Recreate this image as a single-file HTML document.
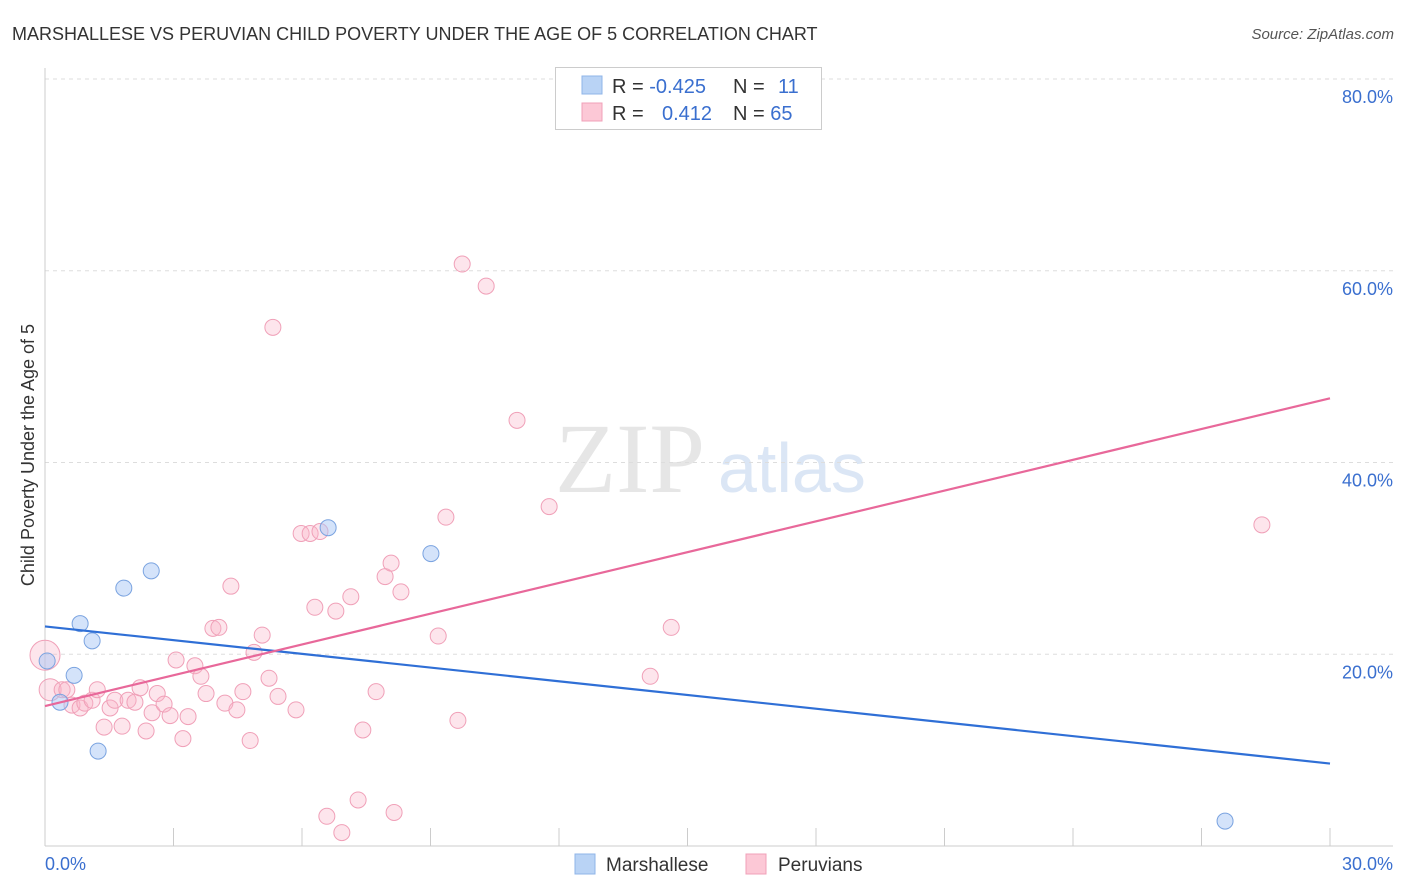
<!DOCTYPE html>
<html><head><meta charset="utf-8"><style>
body{margin:0;background:#fff;font-family:"Liberation Sans",sans-serif;}
svg{display:block}
</style></head><body>
<svg id="c" width="1406" height="892">
<text x="12" y="40" font-size="18" fill="#333">MARSHALLESE VS PERUVIAN CHILD POVERTY UNDER THE AGE OF 5 CORRELATION CHART</text>
<text x="1394" y="39" font-size="15" fill="#555" font-style="italic" text-anchor="end">Source: ZipAtlas.com</text>
<text x="555" y="492" font-size="100" fill="#e6e6e6" font-family="Liberation Serif,serif">ZIP</text>
<text x="718" y="492" font-size="70" fill="#dbe6f5">atlas</text>
<g id="grid"></g>
<g id="marks"></g>
<text transform="translate(34,455) rotate(-90)" font-size="18" fill="#333" text-anchor="middle">Child Poverty Under the Age of 5</text>
<g>
<rect x="555.5" y="67.5" width="266" height="62" fill="#fff" stroke="#ccc"/>
<rect x="582" y="76" width="20" height="18" fill="#b9d3f5" stroke="#8fb4e8"/>
<rect x="582" y="103" width="20" height="18" fill="#fcc8d6" stroke="#f0a0b8"/>
<text x="612" y="93" font-size="20" fill="#333">R = <tspan fill="#3a6fcf">-0.425</tspan><tspan x="733">N = </tspan><tspan x="778" fill="#3a6fcf">11</tspan></text>
<text x="612" y="120" font-size="20" fill="#333">R = <tspan x="662" fill="#3a6fcf">0.412</tspan><tspan x="733">N = </tspan><tspan fill="#3a6fcf">65</tspan></text>
</g>
<g>
<rect x="575" y="854" width="20" height="20" fill="#b9d3f5" stroke="#8fb4e8"/>
<text x="606" y="871" font-size="19" fill="#333">Marshallese</text>
<rect x="746" y="854" width="20" height="20" fill="#fcc8d6" stroke="#f0a0b8"/>
<text x="778" y="871" font-size="19" fill="#333">Peruvians</text>
</g>
</svg>
<script>
const yTicks=[20,40,60,80];
const yTickLabels=["20.0%","40.0%","60.0%","80.0%"];
const xTickLabels=["0.0%","30.0%"];
const pinkX=[0,0.12,0.40,0.51,0.63,0.82,0.93,1.10,1.22,1.38,1.52,1.63,1.80,1.94,2.10,2.22,2.36,2.50,2.62,2.78,2.92,3.06,3.22,3.34,3.50,3.64,3.76,3.92,4.06,4.20,4.34,4.48,4.62,4.79,4.88,5.07,5.23,5.32,5.44,5.86,5.98,6.19,6.30,6.42,6.58,6.79,6.93,7.14,7.31,7.42,7.73,7.94,8.08,8.15,8.31,9.18,9.36,9.64,9.74,10.30,11.02,11.77,14.13,14.62,28.41];
const pinkY=[19.9,16.3,16.3,16.3,14.7,14.4,14.9,15.2,16.3,12.4,14.4,15.2,12.5,15.2,15.0,16.5,12.0,13.9,15.9,14.8,13.6,19.4,11.2,13.5,18.8,17.7,15.9,22.7,22.8,14.9,27.1,14.2,16.1,11.0,20.2,22.0,17.5,54.1,15.6,14.2,32.6,32.6,24.9,32.8,3.1,24.5,1.4,26.0,4.8,12.1,16.1,28.1,29.5,3.5,26.5,21.9,34.3,13.1,60.7,58.4,44.4,35.4,17.7,22.8,33.5];
const blueX=[0.05,0.35,0.68,0.82,1.10,1.24,1.84,2.48,6.61,9.01,27.55];
const blueY=[19.3,15.0,17.8,23.2,21.4,9.9,26.9,28.7,33.2,30.5,2.6];
const blueTrend=[22.9,8.6];
const pinkTrend=[14.6,46.7];
const X0=45,X1=1330,Y0=846,Y80=79;
const sx=v=>X0+(X1-X0)*v/30;
const sy=v=>Y0-(Y0-Y80)*v/80;
const NS="http://www.w3.org/2000/svg";
function mk(t,a,p){const e=document.createElementNS(NS,t);for(const k in a)e.setAttribute(k,a[k]);p.appendChild(e);return e;}
const g=document.getElementById('grid'),m=document.getElementById('marks');
yTicks.forEach((v,i)=>{
 const l=mk('line',{x1:X0,x2:1393,y1:sy(v),y2:sy(v),stroke:'#ddd','stroke-dasharray':'4,4'},g);
 
 
 const t=mk('text',{x:1393,y:sy(v)+24,'font-size':18,fill:'#3a6fcf','text-anchor':'end'},g);
 t.textContent=yTickLabels[i];
 
 
});
const ax=mk('line',{x1:X0,x2:X0,y1:68,y2:Y0,stroke:'#ccc'},g);


const bx=mk('line',{x1:X0,x2:1393,y1:Y0,y2:Y0,stroke:'#ccc'},g);


for(let i=1;i<=10;i++){const tk=mk('line',{x1:sx(i*3),x2:sx(i*3),y1:828,y2:Y0,stroke:'#ccc'},g);
 
 }
[[0,'start',45],[30,'end',1393]].forEach((d,i)=>{const t=mk('text',{x:d[2],y:870,'font-size':18,fill:'#3a6fcf','text-anchor':d[1]},g);t.textContent=xTickLabels[i];
 
 });
pinkX.forEach((x,i)=>{const r=i==0?15:(i==1?11:8);const c=mk('circle',{cx:sx(x),cy:sy(pinkY[i]),r:r,fill:'rgba(248,180,200,0.35)',stroke:'#f0a0b8','stroke-width':1},m);
 
 });
blueX.forEach((x,i)=>{const c=mk('circle',{cx:sx(x),cy:sy(blueY[i]),r:8,fill:'rgba(170,200,245,0.5)',stroke:'#7aa3e0','stroke-width':1},m);
 
 });
const bl=mk('line',{x1:sx(0),y1:sy(blueTrend[0]),x2:sx(30),y2:sy(blueTrend[1]),stroke:'#2f6fd6','stroke-width':2.2},m);


const pl=mk('line',{x1:sx(0),y1:sy(pinkTrend[0]),x2:sx(30),y2:sy(pinkTrend[1]),stroke:'#e8689a','stroke-width':2.2},m);


</script>
</body></html>
